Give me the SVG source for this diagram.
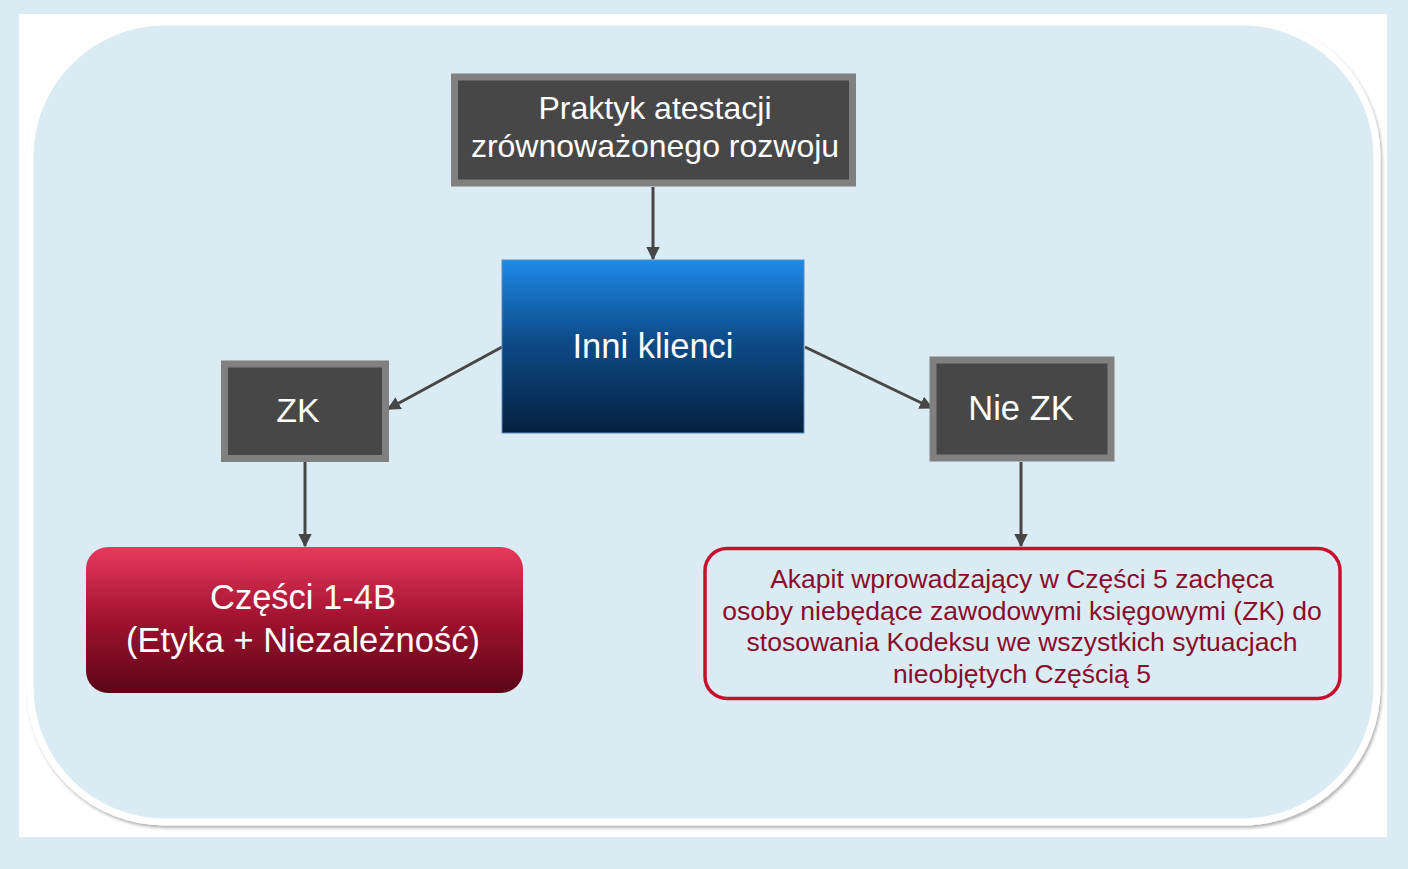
<svg xmlns="http://www.w3.org/2000/svg" width="1408" height="869" viewBox="0 0 1408 869">
  <defs>
    <linearGradient id="gBlue" x1="0" y1="0" x2="0" y2="1">
      <stop offset="0" stop-color="#1f8ae8"/>
      <stop offset="0.45" stop-color="#0d4d8c"/>
      <stop offset="1" stop-color="#05203f"/>
    </linearGradient>
    <linearGradient id="gRed" x1="0" y1="0" x2="0" y2="1">
      <stop offset="0" stop-color="#e9395c"/>
      <stop offset="0.5" stop-color="#a0122f"/>
      <stop offset="1" stop-color="#5c0618"/>
    </linearGradient>
    <filter id="panelShadow" x="-5%" y="-5%" width="110%" height="110%">
      <feDropShadow dx="1.5" dy="2.5" stdDeviation="1.8" flood-color="#000" flood-opacity="0.3"/>
    </filter>
    <marker id="arrow" viewBox="0 0 10 10" refX="9" refY="5" markerWidth="4.5" markerHeight="4.5" markerUnits="strokeWidth" orient="auto">
      <path d="M0,0 L10,5 L0,10 z" fill="#474747"/>
    </marker>
    <style>
      .lbl { font-family: "Liberation Sans", Arial, sans-serif; fill: #ffffff; text-anchor: middle; }
      .grey { fill: #474747; stroke: #808080; stroke-width: 7; }
      .conn { stroke: #474747; stroke-width: 3; fill: none; marker-end: url(#arrow); }
      .note { font-family: "Liberation Sans", Arial, sans-serif; fill: #8b0b2b; text-anchor: middle; font-size: 26.5px; }
    </style>
  </defs>

  <!-- page background and frame -->
  <rect x="0" y="0" width="1408" height="869" fill="#daebf3"/>
  <rect x="19" y="14" width="1368" height="823" fill="#ffffff"/>
  <rect x="30" y="22" width="1347" height="800" rx="135" ry="135" fill="#daebf3" stroke="#ffffff" stroke-width="7" filter="url(#panelShadow)"/>

  <!-- connectors -->
  <g id="connectors">
    <line class="conn" x1="653" y1="187" x2="653" y2="259"/>
    <line class="conn" x1="502" y1="347" x2="388" y2="409"/>
    <line class="conn" x1="805" y1="347" x2="932" y2="408"/>
    <line class="conn" x1="305" y1="462" x2="305" y2="546"/>
    <line class="conn" x1="1021" y1="462" x2="1021" y2="546"/>
  </g>

  <g id="node-praktyk">
    <rect class="grey" x="454.5" y="77" width="398" height="106"/>
    <text class="lbl" font-size="32" x="655" y="119">Praktyk atestacji</text>
    <text class="lbl" font-size="32" x="655" y="157">zrównoważonego rozwoju</text>
  </g>

  <g id="node-inni">
    <rect x="502" y="260" width="302" height="173" fill="url(#gBlue)" stroke="#5b8cc0" stroke-width="1"/>
    <text class="lbl" font-size="34.5" x="653" y="358">Inni klienci</text>
  </g>

  <g id="node-zk">
    <rect class="grey" x="224.5" y="364" width="161" height="94.5"/>
    <text class="lbl" font-size="34" x="298" y="422">ZK</text>
  </g>

  <g id="node-niezk">
    <rect class="grey" x="933" y="360" width="178" height="98"/>
    <text class="lbl" font-size="34.5" x="1021" y="420">Nie ZK</text>
  </g>

  <g id="node-czesci">
    <rect x="86" y="547" width="437" height="146" rx="22" ry="22" fill="url(#gRed)"/>
    <text class="lbl" font-size="34.5" x="303" y="609">Części 1-4B</text>
    <text class="lbl" font-size="34.5" x="303" y="652">(Etyka + Niezależność)</text>
  </g>

  <g id="node-akapit">
    <rect x="705" y="548.5" width="635" height="150" rx="22" ry="22" fill="none" stroke="#c8102e" stroke-width="3.5"/>
    <text class="note" x="1022" y="588">Akapit wprowadzający w Części 5 zachęca</text>
    <text class="note" x="1022" y="619.5">osoby niebędące zawodowymi księgowymi (ZK) do</text>
    <text class="note" x="1022" y="651">stosowania Kodeksu we wszystkich sytuacjach</text>
    <text class="note" x="1022" y="682.5">nieobjętych Częścią 5</text>
  </g>
</svg>
